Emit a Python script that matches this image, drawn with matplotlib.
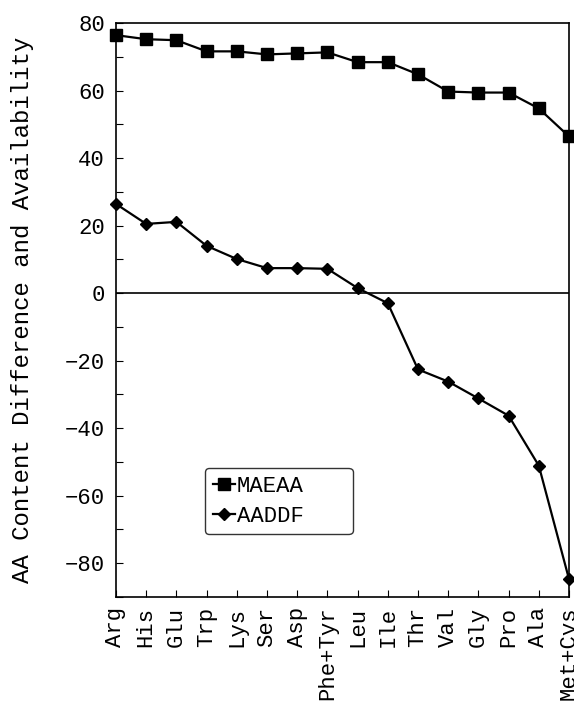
import matplotlib.pyplot as plt
from matplotlib.ticker import MultipleLocator

amino_acids = ["Arg", "His", "Glu", "Trp", "Lys", "Ser", "Asp", "Phe+Tyr",
               "Leu", "Ile", "Thr", "Val", "Gly", "Pro", "Ala", "Met+Cys"]
maeaa = [76.4, 75.2, 74.9, 71.6, 71.6, 70.7, 71.0, 71.3,
         68.4, 68.4, 64.8, 59.7, 59.4, 59.4, 54.7, 46.4]
aaddf = [26.4, 20.5, 21.1, 14.0, 10.1, 7.4, 7.4, 7.2,
         1.5, -3.0, -22.6, -26.2, -31.2, -36.3, -51.1, -84.7]

plt.rcParams["font.family"] = ["Liberation Mono", "DejaVu Sans Mono"]


def main():
    fig = plt.figure(figsize=(5.74, 7.06), dpi=100)
    ax = fig.add_axes([116 / 574, 1 - 597 / 706, 453 / 574, 574 / 706])

    x = list(range(len(amino_acids)))
    ax.plot(x, maeaa, color="black", lw=1.6, marker="s", ms=8, label="MAEAA",
            clip_on=False, zorder=3)
    ax.plot(x, aaddf, color="black", lw=1.6, marker="D", ms=6, label="AADDF",
            clip_on=False, zorder=3)
    ax.axhline(0, color="black", lw=1.2)

    ax.set_xlim(0, len(amino_acids) - 1)
    ax.set_ylim(-90, 80)
    ax.set_xticks(x)
    ax.set_xticklabels(amino_acids, rotation=90, fontsize=16)
    ax.yaxis.set_major_locator(MultipleLocator(20))
    ax.yaxis.set_minor_locator(MultipleLocator(10))
    ax.tick_params(axis="both", which="both", direction="in", length=5, width=0.8)
    ax.tick_params(axis="y", labelsize=16, pad=8)
    ax.tick_params(axis="x", pad=7)
    for spine in ax.spines.values():
        spine.set_linewidth(1.2)

    ax.set_ylabel("AA Content Difference and Availability", fontsize=17.3,
                  labelpad=22)

    leg = ax.legend(loc="upper left", bbox_to_anchor=(0.196, 0.115, 0.327, 0.11),
                    mode="expand", fontsize=16,
                    frameon=True, fancybox=True, edgecolor="black",
                    handlelength=1.0, handletextpad=0.1, borderpad=0.35,
                    labelspacing=0.4, borderaxespad=0)
    leg.get_frame().set_linewidth(1.0)

    fig.savefig("out.png", dpi=100)


if __name__ == "__main__":
    main()
